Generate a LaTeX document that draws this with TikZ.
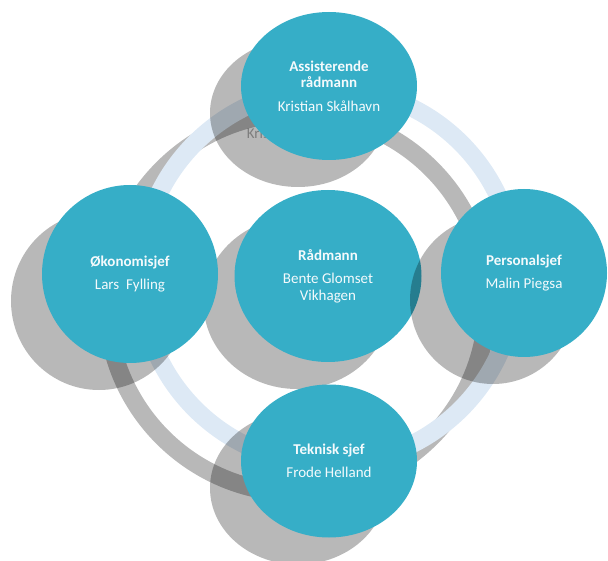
\documentclass[tikz,border=0pt]{standalone}
\usepackage{fontspec}
\setmainfont{Carlito}
\usepackage{tikz}
\usetikzlibrary{shapes.geometric}
\definecolor{tealfill}{RGB}{54,174,199}
\definecolor{ringblue}{RGB}{221,233,245}
\definecolor{namewhite}{RGB}{244,250,252}

\begin{document}
\begin{tikzpicture}[x=1pt,y=-1pt,
	role/.style={ellipse,fill=tealfill,text=namewhite,align=center,inner sep=0pt,font=\fontsize{15}{16.5}\selectfont},
	dropdisc/.style={ellipse,fill=black,fill opacity=0.28,inner sep=0pt},
	ring/.style={line width=18pt}]
	\useasboundingbox (0,0) rectangle (608,561);
	\clip (0,0) rectangle (608,561);

	\coordinate (mid) at (328,276);
	\coordinate (midshadow) at (297,303);

	% the two rings
	\draw[ring,draw=black,draw opacity=0.28] (midshadow) circle (190);
	\draw[ring,draw=ringblue] (mid) circle (188);

	% centre
	\node[dropdisc,minimum width=187,minimum height=172] (s-rad) at (midshadow) {};
	\node[role,minimum width=187,minimum height=172] (rad) at (mid) {\textbf{Rådmann}\\[7pt]Bente Glomset\\Vikhagen};

	% top
	\node[dropdisc,minimum width=176,minimum height=148] (s-ass) at (298,113) {};
	\node[text=black,text opacity=0.32,font=\fontsize{15}{16.5}\selectfont] (s-name) at (298,133) {Kristian Skålhavn};
	\node[role,minimum width=176,minimum height=148] (ass) at (329,86) {\textbf{Assisterende}\\\textbf{rådmann}\\[7pt]Kristian Skålhavn};

	% left
	\node[dropdisc,minimum width=176,minimum height=178] (s-oko) at (99,301) {};
	\node[role,minimum width=176,minimum height=178] (oko) at (130,274) {\textbf{Økonomisjef}\\[7pt]Lars\ \ Fylling};

	% right
	\node[dropdisc,minimum width=166,minimum height=168] (s-pers) at (493,300) {};
	\node[role,minimum width=166,minimum height=168] (pers) at (524,273) {\textbf{Personalsjef}\\[7pt]Malin Piegsa};

	% bottom
	\node[dropdisc,minimum width=176,minimum height=153] (s-tek) at (298,488) {};
	\node[role,minimum width=176,minimum height=153] (tek) at (329,461) {\textbf{Teknisk sjef}\\[7pt]Frode Helland};

\end{tikzpicture}
\end{document}
